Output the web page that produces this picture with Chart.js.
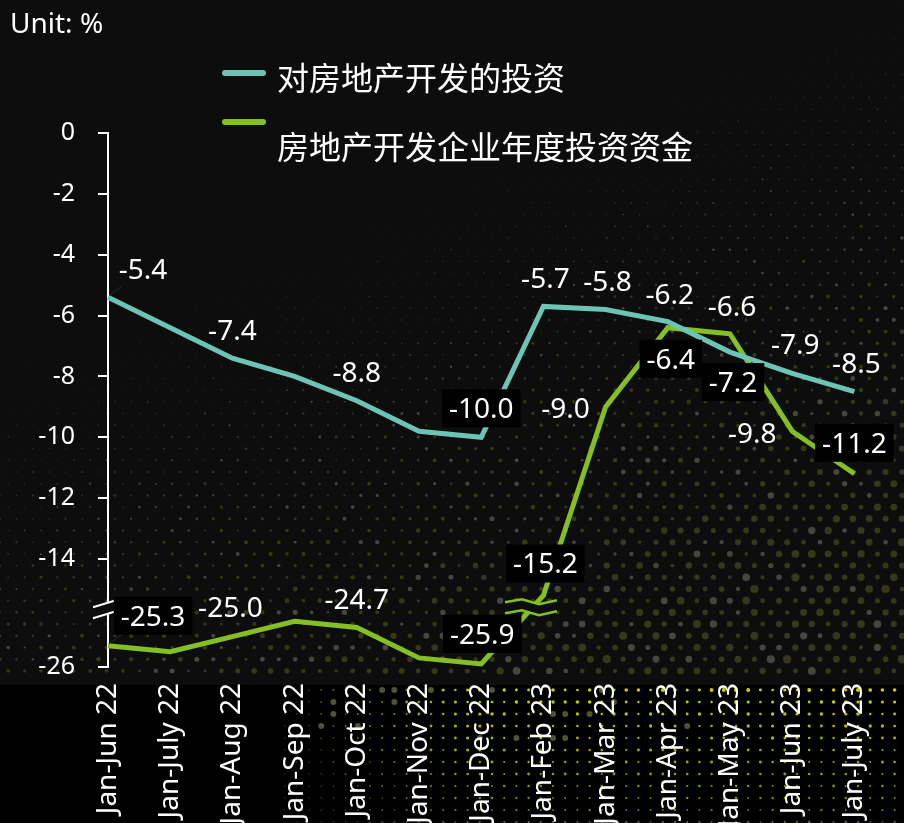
<!DOCTYPE html>
<html>
<head>
<meta charset="utf-8">
<script src="https://cdn.jsdelivr.net/npm/chart.js@4.4.0/dist/chart.umd.min.js"></script>
<style>
  html, body { margin: 0; padding: 0; background: #000; }
  #wrap { position: relative; width: 904px; height: 823px; overflow: hidden; }
  #wrap canvas { position: absolute; left: 0; top: 0; }
  .unit { position: absolute; left: 10px; top: 0px; color: #fff; font: 28px "Noto Sans", sans-serif; line-height: 44px; }
  .swatch { position: absolute; left: 222px; width: 44px; height: 6px; border-radius: 3px; }
  .legend-text { position: absolute; left: 277px; color: #fff; font: 32px "Noto Sans CJK SC", sans-serif; line-height: 40px; white-space: nowrap; }
</style>
</head>
<body>
<div id="wrap">
  <canvas id="chart" width="904" height="823"></canvas>
  <div class="unit">Unit: %</div>
  <div class="swatch" style="top:70px;background:#6cc4b5"></div>
  <div class="legend-text" style="top:56px">对房地产开发的投资</div>
  <div class="swatch" style="top:119px;background:#84bf24"></div>
  <div class="legend-text" style="top:125px">房地产开发企业年度投资资金</div>
</div>
<script>
// categories and values (year-to-date growth, %)
const months = ['Jan-Jun 22', 'Jan-July 22', 'Jan-Aug 22', 'Jan-Sep 22', 'Jan-Oct 22', 'Jan-Nov 22',
  'Jan-Dec 22', 'Jan-Feb 23', 'Jan-Mar 23', 'Jan-Apr 23', 'Jan-May 23', 'Jan-Jun 23', 'Jan-July 23'];
const investment = [-5.4, -6.4, -7.4, -8.0, -8.8, -9.8, -10.0, -5.7, -5.8, -6.2, -7.2, -7.9, -8.5];
const funds = [-25.3, -25.5, -25.0, -24.5, -24.7, -25.7, -25.9, -15.2, -9.0, -6.4, -6.6, -9.8, -11.2];
const yTicks = [0, -2, -4, -6, -8, -10, -12, -14, -26];

// where each value label sits: [dx, dy, boxed] or null for no label
const investPlaces = [[35, -28, false], null, [0, -28, false], null, [0, -29, false], null,
  [0, -29, true], [2, -28, false], [2, -28, false], [2, -28, false], [3, 30, true], [3, -29, false], [2, -29, false]];
const fundPlaces = [[45, -30, true], null, [-2, -30, false], null, [0, -28, false], null,
  [1, -30, true], [2, -32, true], [-40, 1, false], [3, 31, true], [2, -28, false], [-40, 2, false], [0, -31, true]];

// the y axis is broken: values below -20 are shifted up
const BREAK_SHIFT = 8.45;
const AXIS_BREAK = -15.65;
const toAxis = v => (v < -20 ? v + BREAK_SHIFT : v);

const BG = '#0d0d0d';
const TEAL = '#6cc4b5';
const GREEN = '#84bf24';

function hash(i, j) {
  const s = Math.sin(i * 12.9898 + j * 78.233) * 43758.5453;
  return s - Math.floor(s);
}

const backdrop = {
  id: 'backdrop',
  beforeDraw(chart) {
    const ctx = chart.ctx;
    const W = chart.width, H = chart.height;
    ctx.save();
    ctx.fillStyle = '#000';
    ctx.fillRect(0, 0, W, H);
    ctx.fillStyle = BG;
    ctx.fillRect(0, 0, W, 685);
    // halftone dots over the plot panel, growing towards the lower right
    const sx = 16.4, sy = 11.7;
    for (let j = 0; j * sy < 690; j++) {
      for (let i = -1; i * sx < W + sx; i++) {
        const x = i * sx + (j % 2 ? sx / 2 : 0);
        const y = j * sy + 4;
        if (y > 682) continue;
        const f = Math.min(1, Math.max(0, 0.45 * (x - 150) / 750 + 0.85 * (y - 80) / 600 - 0.1));
        const h = hash(i, j);
        const r = 4.2 * Math.pow(f, 1.6) * (0.5 + 0.5 * h);
        if (r < 0.4) continue;
        ctx.fillStyle = hash(j, i) > 0.8 ? '#46463c' : '#37371a';
        ctx.beginPath();
        ctx.arc(x, y, r, 0, Math.PI * 2);
        ctx.fill();
      }
    }
    // brighter dots in the label strip
    for (let j = 0; 690 + j * 12 < H; j++) {
      for (let i = 0; i * 12.2 < W; i++) {
        const x = i * 12.2 + 4;
        const y = 690 + j * 12;
        const f = Math.min(1, Math.max(0, (x - 270) / 200)) * Math.max(0, 1 - (y - 690) / 220);
        if (f <= 0.02) continue;
        const h = hash(i + 50, j + 50);
        if (h > 0.9 && y < 740 && x < 720) {
          ctx.fillStyle = 'rgba(150,150,100,0.55)';
          ctx.beginPath();
          ctx.arc(x, y, 3, 0, Math.PI * 2);
          ctx.fill();
          continue;
        }
        ctx.fillStyle = `rgba(200,210,0,${0.3 + 0.7 * f})`;
        ctx.beginPath();
        ctx.arc(x, y, 0.6 + 1.4 * f * (0.4 + 0.6 * h), 0, Math.PI * 2);
        ctx.fill();
      }
    }
    ctx.restore();
  }
};

const breaks = {
  id: 'breaks',
  afterDatasetsDraw(chart) {
    const ctx = chart.ctx;
    const yScale = chart.scales.y;
    const yb = yScale.getPixelForValue(AXIS_BREAK);
    const xa = chart.chartArea.left;
    ctx.save();
    // break on the y axis
    ctx.fillStyle = BG;
    ctx.beginPath();
    ctx.moveTo(xa - 15, yb - 2); ctx.lineTo(xa + 8, yb - 9);
    ctx.lineTo(xa + 8, yb + 2); ctx.lineTo(xa - 15, yb + 9);
    ctx.closePath(); ctx.fill();
    ctx.strokeStyle = '#fff'; ctx.lineWidth = 2;
    ctx.beginPath();
    ctx.moveTo(xa - 15, yb - 2); ctx.lineTo(xa + 8, yb - 9);
    ctx.moveTo(xa - 15, yb + 9); ctx.lineTo(xa + 8, yb + 2);
    ctx.stroke();
    // break on the funds line, between Dec 22 and Feb 23
    const meta = chart.getDatasetMeta(1);
    const a = meta.data[6], b = meta.data[7];
    const cx = a.x + (b.x - a.x) * (a.y - yb) / (a.y - b.y);
    const cy = yb - 2;
    const wave = [[-26, -5], [-9, -8], [8, -3], [26, -7]];
    ctx.fillStyle = BG;
    ctx.beginPath();
    wave.forEach(([dx, dy], k) => (k ? ctx.lineTo(cx + dx, cy + dy) : ctx.moveTo(cx + dx, cy + dy)));
    for (let k = wave.length - 1; k >= 0; k--) ctx.lineTo(cx + wave[k][0], cy + wave[k][1] + 11);
    ctx.closePath(); ctx.fill();
    ctx.strokeStyle = GREEN; ctx.lineWidth = 2.5;
    [0, 11].forEach(off => {
      ctx.beginPath();
      wave.forEach(([dx, dy], k) => (k ? ctx.lineTo(cx + dx, cy + dy + off) : ctx.moveTo(cx + dx, cy + dy + off)));
      ctx.stroke();
    });
    ctx.restore();
  }
};

const valueLabels = {
  id: 'valueLabels',
  afterDatasetsDraw(chart) {
    const ctx = chart.ctx;
    ctx.save();
    ctx.font = '28px "Noto Sans", sans-serif';
    ctx.textAlign = 'center';
    ctx.textBaseline = 'alphabetic';
    [[investment, investPlaces, 0], [funds, fundPlaces, 1]].forEach(([vals, places, di]) => {
      const meta = chart.getDatasetMeta(di);
      vals.forEach((v, i) => {
        const p = places[i];
        if (!p) return;
        const pt = meta.data[i];
        const x = pt.x + p[0], y = pt.y + p[1];
        const txt = v.toFixed(1);
        if (i === 0) {
          // small leader line to the first label
          ctx.strokeStyle = '#2a2a2a'; ctx.lineWidth = 1;
          ctx.beginPath(); ctx.moveTo(pt.x + 1, pt.y - 2); ctx.lineTo(pt.x + 15, pt.y - 12); ctx.stroke();
        }
        if (p[2]) {
          const w = ctx.measureText(txt).width + 14;
          ctx.fillStyle = '#000';
          ctx.fillRect(x - w / 2, y - 19, w, 38);
        }
        ctx.fillStyle = '#fff';
        ctx.fillText(txt, x, y + 10);
      });
    });
    ctx.restore();
  }
};

new Chart(document.getElementById('chart'), {
  type: 'line',
  data: {
    labels: months,
    datasets: [{
      label: '对房地产开发的投资',
      data: investment.map(toAxis),
      borderColor: TEAL,
      borderWidth: 5,
      pointRadius: 0,
      tension: 0
    }, {
      label: '房地产开发企业年度投资资金',
      data: funds.map(toAxis),
      borderColor: GREEN,
      borderWidth: 5,
      pointRadius: 0,
      tension: 0
    }]
  },
  options: {
    responsive: false,
    animation: false,
    layout: { padding: { top: 133, right: 38, left: 0, bottom: 0 } },
    plugins: {
      legend: { display: false },
      tooltip: { enabled: false }
    },
    scales: {
      x: {
        offset: false,
        grid: { display: false, drawTicks: false },
        border: { display: false },
        ticks: {
          color: '#fff',
          font: { family: '"Noto Sans", sans-serif', size: 28 },
          minRotation: 90,
          maxRotation: 90,
          autoSkip: false,
          padding: 16
        },
        afterFit: s => { s.height = 156; }
      },
      y: {
        min: toAxis(-26),
        max: 0,
        afterBuildTicks: s => { s.ticks = yTicks.map(v => ({ value: toAxis(v) })); },
        afterFit: s => { s.width = 108; },
        grid: { drawOnChartArea: false, drawTicks: true, tickLength: 10, color: '#fff', lineWidth: 2 },
        border: { color: '#fff', width: 2 },
        ticks: {
          color: '#fff',
          font: { family: '"Noto Sans", sans-serif', size: 25 },
          padding: 23,
          callback: val => {
            const t = yTicks.find(v => Math.abs(toAxis(v) - val) < 1e-6);
            return t === undefined ? '' : String(t);
          }
        }
      }
    }
  },
  plugins: [backdrop, breaks, valueLabels]
});
</script>
</body>
</html>
